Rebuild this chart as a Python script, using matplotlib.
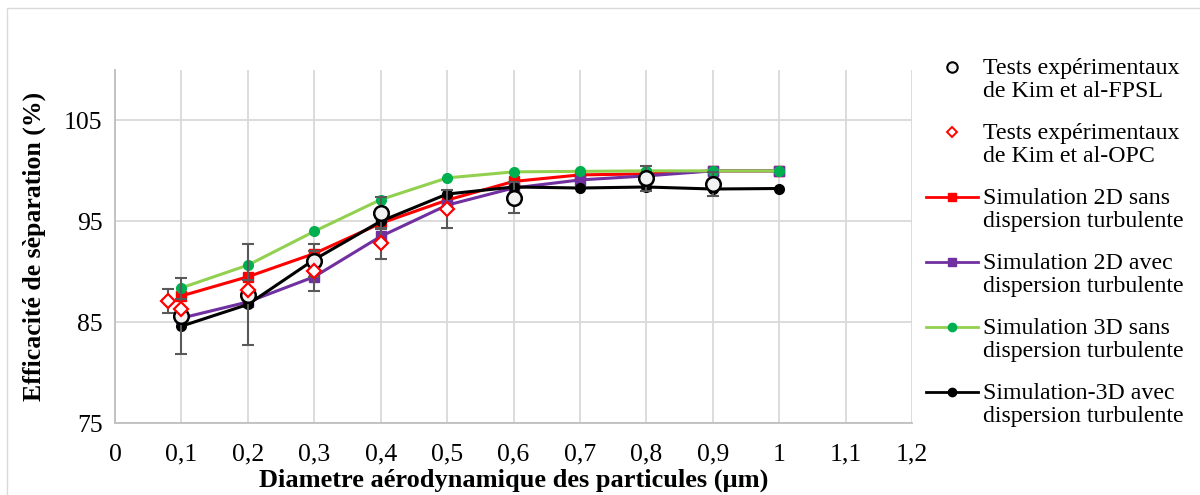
import matplotlib
matplotlib.use("Agg")
import matplotlib.pyplot as plt
from matplotlib.lines import Line2D
from matplotlib.patches import Rectangle
from matplotlib.ticker import FuncFormatter

plt.rcParams['font.family'] = ['Liberation Serif', 'DejaVu Serif']

# Simulations (same diameters for all four curves)
x_sim = [0.1, 0.2, 0.3, 0.4, 0.5, 0.6, 0.7, 0.8, 0.9, 1.0]
sim_2d_sans = [87.6, 89.5, 91.8, 94.8, 97.1, 98.95, 99.6, 99.7, 100.0, 100.0]
sim_2d_avec = [85.4, 87.0, 89.5, 93.5, 96.6, 98.3, 99.1, 99.5, 100.0, 100.0]
sim_3d_sans = [88.4, 90.65, 94.0, 97.15, 99.3, 99.9, 99.95, 100.0, 100.0, 100.0]
sim_3d_avec = [84.6, 86.75, 91.2, 95.0, 97.7, 98.4, 98.3, 98.4, 98.2, 98.25]

# Kim et al. experiments
x_fpsl = [0.1, 0.2, 0.3, 0.4, 0.6, 0.8, 0.9]
y_fpsl = [85.6, 87.7, 91.1, 95.8, 97.35, 99.25, 98.7]
err_fpsl = [3.8, 5.0, 1.6, 1.6, 1.5, 1.2, 1.2]

x_opc = [0.08, 0.1, 0.2, 0.3, 0.4, 0.5]
y_opc = [87.1, 86.3, 88.2, 90.05, 92.8, 96.25]
err_opc = [1.2, 1.0, 1.0, 2.0, 1.5, 1.9]

x_ticks = [0, 0.1, 0.2, 0.3, 0.4, 0.5, 0.6, 0.7, 0.8, 0.9, 1.0, 1.1, 1.2]
y_ticks = [75, 85, 95, 105]

W, H = 1200, 495
fig = plt.figure(figsize=(12, 4.95), dpi=100)
ax = fig.add_axes([115 / W, 1 - 423 / H, (912 - 115) / W, (423 - 70) / H])

# light frame around the chart area
fig.patches.append(Rectangle((7 / W, -0.1), 1.2, 1 - 8 / H + 0.1, transform=fig.transFigure,
                             fill=False, edgecolor='#d9d9d9', linewidth=1.0))

sim_styles = [
    (sim_2d_sans, dict(color='#ff0000', marker='s', mfc='#ff0000', mec='#ff0000', ms=6.5)),
    (sim_2d_avec, dict(color='#7030a0', marker='s', mfc='#7030a0', mec='#7030a0', ms=6.5)),
    (sim_3d_sans, dict(color='#92d050', marker='o', mfc='#00b050', mec='#00b050', ms=7)),
    (sim_3d_avec, dict(color='#000000', marker='o', mfc='#000000', mec='#000000', ms=7)),
]
for values, style in sim_styles:
    ax.plot(x_sim, values, linewidth=2.2, zorder=3, **style)

# error bars
ax.errorbar(x_fpsl, y_fpsl, yerr=err_fpsl, fmt='none', ecolor='#595959',
            elinewidth=1.5, capsize=4.5, capthick=1.5, zorder=4)
ax.errorbar(x_opc, y_opc, yerr=err_opc, fmt='none', ecolor='#595959',
            elinewidth=1.5, capsize=4.5, capthick=1.5, zorder=4)

ax.plot(x_fpsl, y_fpsl, linestyle='none', marker='o', ms=10.5, mfc='#f2f2f2',
        mec='#000000', mew=1.8, zorder=5)
ax.plot(x_opc, y_opc, linestyle='none', marker='D', ms=7.5, mfc='white',
        mec='#ff0000', mew=1.6, zorder=6)

ax.set_xlim(0, 1.2)
ax.set_ylim(75, 110)
ax.set_xticks(x_ticks)
ax.set_yticks(y_ticks)
ax.xaxis.set_major_formatter(FuncFormatter(lambda v, p: f"{round(v, 1):g}".replace('.', ',')))
ax.grid(True, color='#d9d9d9', linewidth=1.3)
ax.set_axisbelow(True)
for side in ['top', 'right']:
    ax.spines[side].set_visible(False)
for side in ['left', 'bottom']:
    ax.spines[side].set_color('#bfbfbf')
    ax.spines[side].set_linewidth(1.3)
ax.tick_params(axis='both', length=0, labelsize=18.5, colors='black')
ax.tick_params(axis='x', pad=15)
ax.tick_params(axis='y', pad=9)

ax.set_xlabel("Diametre aérodynamique des particules (µm)", fontsize=19, fontweight='bold')
ax.xaxis.set_label_coords(0.5, -0.13)
ax.set_ylabel("Efficacité de sèparation (%)", fontsize=18.5, fontweight='bold')
ax.yaxis.set_label_coords(-0.087, 0.5)

# legend drawn by hand so the marker sits on the first text line (as in Excel)
legend_entries = [
    ("Tests expérimentaux\nde Kim et al-FPSL",
     dict(linestyle='none', marker='o', ms=7.5, mfc='#f2f2f2', mec='black', mew=1.5)),
    ("Tests expérimentaux\nde Kim et al-OPC",
     dict(linestyle='none', marker='D', ms=5.5, mfc='white', mec='#ff0000', mew=1.4)),
    ("Simulation 2D sans\ndispersion turbulente",
     dict(color='#ff0000', lw=2, marker='s', ms=6, mfc='#ff0000', mec='#ff0000')),
    ("Simulation 2D avec\ndispersion turbulente",
     dict(color='#7030a0', lw=2, marker='s', ms=6, mfc='#7030a0', mec='#7030a0')),
    ("Simulation 3D sans\ndispersion turbulente",
     dict(color='#92d050', lw=2, marker='o', ms=6, mfc='#00b050', mec='#00b050')),
    ("Simulation-3D avec\ndispersion turbulente",
     dict(color='black', lw=2, marker='o', ms=6, mfc='black', mec='black')),
]
y_first = 67
for i, (label, style) in enumerate(legend_entries):
    y = y_first + i * 65
    if style.get('linestyle') != 'none':
        fig.add_artist(Line2D([926 / W, 978 / W], [1 - y / H, 1 - y / H],
                              transform=fig.transFigure, color=style['color'], lw=style['lw']))
        marker_style = {k: v for k, v in style.items() if k not in ('color', 'lw')}
        fig.add_artist(Line2D([952 / W], [1 - y / H], transform=fig.transFigure,
                              linestyle='none', **marker_style))
    else:
        fig.add_artist(Line2D([952 / W], [1 - y / H], transform=fig.transFigure, **style))
    fig.text(983 / W, 1 - (y + 13) / H, label, fontsize=17.2, va='center', ha='left',
             linespacing=1.12)

fig.savefig("out.png", dpi=100)
